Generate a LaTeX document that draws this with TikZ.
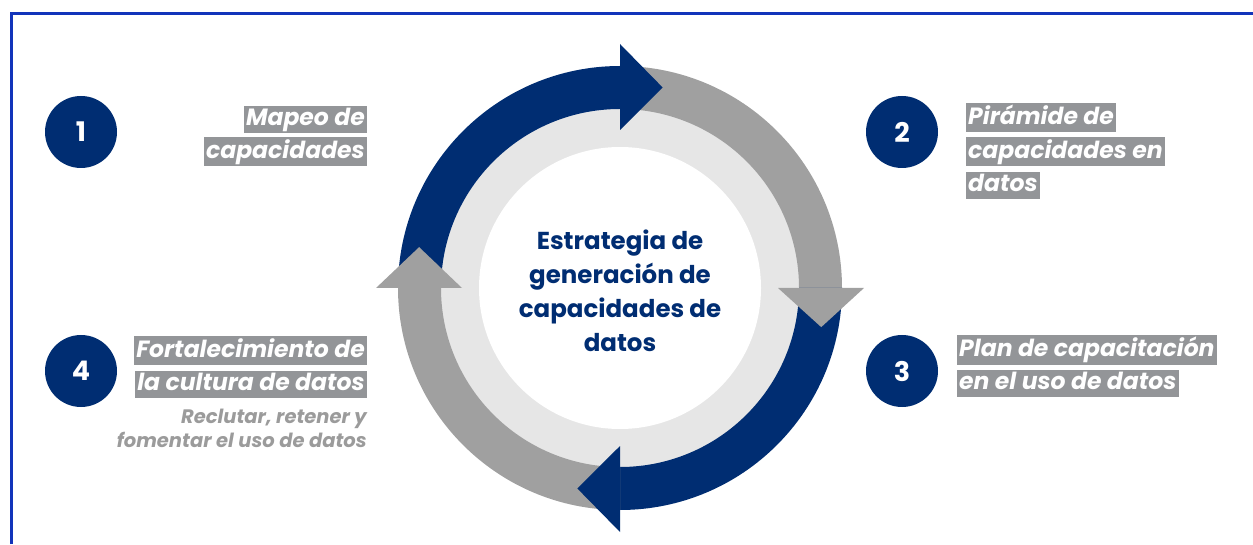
\documentclass[tikz,border=0pt]{standalone}
\usepackage{fontspec}
\setmainfont{Poppins}
\definecolor{navy}{RGB}{0,45,114}
\definecolor{ringgray}{RGB}{160,160,160}
\definecolor{diskgray}{RGB}{230,230,230}
\definecolor{labelgray}{RGB}{147,149,152}
\definecolor{subgray}{RGB}{155,155,155}
\definecolor{frameblue}{RGB}{18,52,186}
\newcommand{\hlline}[1]{{\setlength{\fboxsep}{2pt}\colorbox{labelgray}{\rule[-5.5pt]{0pt}{21pt}#1}}}
\newcommand{\arcbody}[3]{\fill[#1] (#2:222) arc[start angle=#2, end angle=#3, radius=222] -- (#3:179) arc[start angle=#3, end angle=#2, radius=179] -- cycle;}
\newcommand{\archead}[3]{\fill[#1] (#2:158) -- (#2:244) -- (#3:205) -- cycle;}
\begin{document}
\begin{tikzpicture}[x=1pt, y=1pt,
    numcirc/.style={circle, fill=navy, text=white, minimum size=72pt, inner sep=0pt, font=\fontsize{27}{27}\selectfont\bfseries},
    lbl/.style={inner sep=0pt, text=white, font=\fontsize{23.5}{33}\selectfont\bfseries\itshape},
    sublbl/.style={inner sep=0pt, text=subgray, align=right, font=\fontsize{19.5}{24}\selectfont\bfseries\itshape},
    midtext/.style={inner sep=0pt, text=navy, align=center, font=\fontsize{24.5}{34}\selectfont\bfseries}]
    \useasboundingbox (0,0) rectangle (1253,544);

    \coordinate (c01) at ( 81,412);
    \coordinate (c02) at (902,412);
    \coordinate (c03) at (902,173);
    \coordinate (c04) at ( 81,173);

    \coordinate (l01) at (367,408);
    \coordinate (l02) at (966,393);
    \coordinate (l03) at (957,178);
    \coordinate (l04) at (367,177);
    \coordinate (l05) at (367,116);

    \coordinate (m01) at (620,256);

    \coordinate (f01) at (11.5,0);
    \coordinate (f02) at (11.5,530);
    \coordinate (f03) at (1253,530);

    \draw[frameblue, line width=3pt] (f01) -- (f02) -- (f03);

    \begin{scope}[shift={(m01)}]
        \fill[diskgray] (0,0) circle (180);
        \fill[white] (0,0) circle (141);
        \arcbody{navy}{180}{90}
        \arcbody{ringgray}{90}{0}
        \arcbody{navy}{0}{-90}
        \arcbody{ringgray}{-90}{-180}
        \archead{navy}{90}{78}
        \archead{ringgray}{0}{-11}
        \archead{navy}{-90}{-102}
        \archead{ringgray}{180}{168.5}
    \end{scope}

    \node[numcirc] (n1) at (c01) {1};
    \node[numcirc] (n2) at (c02) {2};
    \node[numcirc] (n3) at (c03) {3};
    \node[numcirc] (n4) at (c04) {4};

    \node[lbl, align=right, anchor=east] (t1) at (l01) {\hlline{Mapeo de}\\\hlline{capacidades}};
    \node[lbl, align=left, anchor=west] (t2) at (l02) {\hlline{Pirámide de}\\\hlline{capacidades en}\\\hlline{datos}};
    \node[lbl, align=left, anchor=west] (t3) at (l03) {\hlline{Plan de capacitación}\\\hlline{en el uso de datos}};
    \node[lbl, align=right, anchor=east] (t4) at (l04) {\hlline{Fortalecimiento de}\\\hlline{la cultura de datos}};
    \node[sublbl, anchor=east] (s4) at (l05) {Reclutar, retener y\\fomentar el uso de datos};

    \node[midtext] (mid) at (620,253) {Estrategia de\\generación de\\capacidades de\\datos};
\end{tikzpicture}
\end{document}
